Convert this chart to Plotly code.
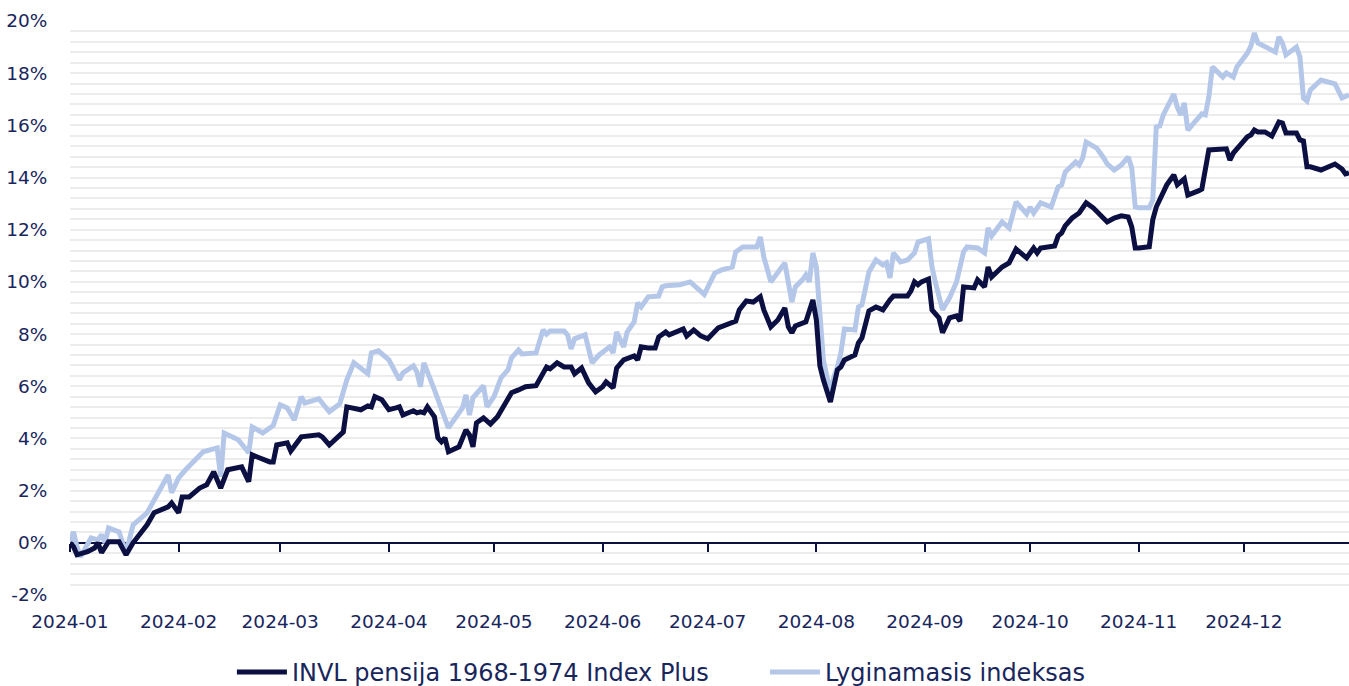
import plotly.graph_objects as go

# ---- data (percent) ----
dark_dates = [
    "2024-01-01", "2024-01-02", "2024-01-03", "2024-01-06", "2024-01-08", "2024-01-09", "2024-01-10",
    "2024-01-12", "2024-01-15", "2024-01-17", "2024-01-19", "2024-01-22", "2024-01-23", "2024-01-25",
    "2024-01-29", "2024-01-30", "2024-02-01", "2024-02-02", "2024-02-04", "2024-02-07", "2024-02-09",
    "2024-02-11", "2024-02-13", "2024-02-15", "2024-02-19", "2024-02-21", "2024-02-22", "2024-02-24",
    "2024-02-27", "2024-02-28", "2024-02-29", "2024-03-03", "2024-03-04", "2024-03-07", "2024-03-12",
    "2024-03-13", "2024-03-15", "2024-03-19", "2024-03-20", "2024-03-24", "2024-03-26", "2024-03-27",
    "2024-03-28", "2024-03-30", "2024-04-01", "2024-04-03", "2024-04-04", "2024-04-05", "2024-04-08",
    "2024-04-09", "2024-04-10", "2024-04-11", "2024-04-12", "2024-04-13", "2024-04-14", "2024-04-15",
    "2024-04-16", "2024-04-17", "2024-04-18", "2024-04-21", "2024-04-23", "2024-04-24", "2024-04-25",
    "2024-04-26", "2024-04-28", "2024-04-30", "2024-05-02", "2024-05-04", "2024-05-06", "2024-05-08",
    "2024-05-10", "2024-05-13", "2024-05-14", "2024-05-16", "2024-05-17", "2024-05-19", "2024-05-21",
    "2024-05-23", "2024-05-24", "2024-05-26", "2024-05-28", "2024-05-30", "2024-06-01", "2024-06-02",
    "2024-06-04", "2024-06-05", "2024-06-07", "2024-06-10", "2024-06-11", "2024-06-12", "2024-06-14",
    "2024-06-16", "2024-06-17", "2024-06-19", "2024-06-20", "2024-06-22", "2024-06-24", "2024-06-25",
    "2024-06-27", "2024-06-29", "2024-07-01", "2024-07-04", "2024-07-06", "2024-07-09", "2024-07-10",
    "2024-07-12", "2024-07-14", "2024-07-16", "2024-07-17", "2024-07-19", "2024-07-21", "2024-07-23",
    "2024-07-24", "2024-07-25", "2024-07-26", "2024-07-29", "2024-07-31", "2024-08-01", "2024-08-02",
    "2024-08-03", "2024-08-05", "2024-08-06", "2024-08-07", "2024-08-08", "2024-08-09", "2024-08-12",
    "2024-08-13", "2024-08-14", "2024-08-16", "2024-08-18", "2024-08-20", "2024-08-22", "2024-08-23",
    "2024-08-27", "2024-08-28", "2024-08-29", "2024-08-30", "2024-08-31", "2024-09-02", "2024-09-03",
    "2024-09-05", "2024-09-06", "2024-09-08", "2024-09-10", "2024-09-11", "2024-09-12", "2024-09-15",
    "2024-09-16", "2024-09-18", "2024-09-19", "2024-09-20", "2024-09-23", "2024-09-25", "2024-09-27",
    "2024-09-30", "2024-10-02", "2024-10-03", "2024-10-04", "2024-10-08", "2024-10-09", "2024-10-10",
    "2024-10-11", "2024-10-13", "2024-10-15", "2024-10-17", "2024-10-19", "2024-10-22", "2024-10-23",
    "2024-10-25", "2024-10-27", "2024-10-29", "2024-10-30", "2024-10-31", "2024-11-01", "2024-11-04",
    "2024-11-05", "2024-11-06", "2024-11-08", "2024-11-09", "2024-11-11", "2024-11-12", "2024-11-14",
    "2024-11-15", "2024-11-18", "2024-11-19", "2024-11-21", "2024-11-26", "2024-11-27", "2024-11-28",
    "2024-11-30", "2024-12-02", "2024-12-03", "2024-12-04", "2024-12-05", "2024-12-07", "2024-12-09",
    "2024-12-11", "2024-12-12", "2024-12-13", "2024-12-16", "2024-12-17", "2024-12-18", "2024-12-19",
    "2024-12-20", "2024-12-23", "2024-12-27", "2024-12-29", "2024-12-30", "2024-12-31",
]
dark_values = [
    0.0, -0.15, -0.46, -0.34, -0.2, 0.0, -0.38,
    0.04, 0.04, -0.46, 0.0, 0.5, 0.69, 1.15,
    1.38, 1.53, 1.15, 1.76, 1.76, 2.1, 2.22,
    2.72, 2.1, 2.8, 2.91, 2.34, 3.37, 3.26,
    3.1, 3.1, 3.75, 3.83, 3.52, 4.06, 4.14,
    4.06, 3.75, 4.25, 5.21, 5.1, 5.25, 5.21,
    5.6, 5.48, 5.1, 5.17, 5.21, 4.9, 5.06,
    4.98, 5.02, 4.98, 5.21, 5.02, 4.83, 4.02,
    3.87, 4.02, 3.49, 3.68, 4.33, 4.14, 3.68,
    4.6, 4.79, 4.55, 4.83, 5.29, 5.75, 5.86,
    5.98, 6.02, 6.25, 6.74, 6.67, 6.9, 6.74,
    6.74, 6.48, 6.7, 6.13, 5.79, 5.98, 6.17,
    5.94, 6.7, 7.01, 7.16, 7.01, 7.51, 7.47,
    7.47, 7.89, 8.08, 7.97, 8.08, 8.2, 7.93,
    8.16, 7.93, 7.82, 8.24, 8.35, 8.5, 8.93,
    9.27, 9.23, 9.43, 8.93, 8.28, 8.54, 9.0,
    8.28, 8.05, 8.31, 8.47, 9.31, 8.54, 6.78,
    6.25, 5.4, 5.98, 6.63, 6.74, 7.01, 7.2,
    7.66, 7.85, 8.89, 9.04, 8.93, 9.31, 9.46,
    9.46, 9.66, 10.0, 9.89, 10.0, 10.11, 8.93,
    8.62, 8.05, 8.62, 8.7, 8.5, 9.81, 9.77,
    10.08, 9.81, 10.57, 10.19, 10.57, 10.73, 11.26,
    10.92, 11.3, 11.11, 11.3, 11.38, 11.76, 11.88,
    12.15, 12.45, 12.64, 13.03, 12.84, 12.45, 12.3,
    12.45, 12.53, 12.49, 12.11, 11.3, 11.3, 11.35,
    12.38, 12.87, 13.41, 13.72, 14.1, 13.72, 13.95,
    13.33, 13.49, 13.56, 15.06, 15.1, 14.67, 14.94,
    15.25, 15.56, 15.63, 15.82, 15.75, 15.75, 15.59,
    16.13, 16.09, 15.71, 15.71, 15.44, 15.4, 14.41,
    14.41, 14.29, 14.52, 14.33, 14.14, 14.18,
]

light_dates = [
    "2024-01-01", "2024-01-02", "2024-01-03", "2024-01-04", "2024-01-07", "2024-01-09", "2024-01-10",
    "2024-01-11", "2024-01-12", "2024-01-15", "2024-01-17", "2024-01-19", "2024-01-23", "2024-01-26",
    "2024-01-29", "2024-01-30", "2024-02-01", "2024-02-03", "2024-02-06", "2024-02-08", "2024-02-12",
    "2024-02-13", "2024-02-14", "2024-02-18", "2024-02-21", "2024-02-22", "2024-02-25", "2024-02-28",
    "2024-03-01", "2024-03-03", "2024-03-05", "2024-03-07", "2024-03-08", "2024-03-12", "2024-03-15",
    "2024-03-18", "2024-03-20", "2024-03-22", "2024-03-26", "2024-03-27", "2024-03-29", "2024-04-01",
    "2024-04-04", "2024-04-05", "2024-04-08", "2024-04-09", "2024-04-10", "2024-04-11", "2024-04-14",
    "2024-04-16", "2024-04-18", "2024-04-22", "2024-04-23", "2024-04-24", "2024-04-25", "2024-04-28",
    "2024-04-29", "2024-05-01", "2024-05-03", "2024-05-05", "2024-05-06", "2024-05-08", "2024-05-09",
    "2024-05-13", "2024-05-15", "2024-05-16", "2024-05-17", "2024-05-21", "2024-05-22", "2024-05-23",
    "2024-05-24", "2024-05-27", "2024-05-29", "2024-05-31", "2024-06-03", "2024-06-04", "2024-06-05",
    "2024-06-07", "2024-06-08", "2024-06-10", "2024-06-11", "2024-06-12", "2024-06-14", "2024-06-17",
    "2024-06-18", "2024-06-19", "2024-06-23", "2024-06-26", "2024-06-28", "2024-06-30", "2024-07-03",
    "2024-07-05", "2024-07-08", "2024-07-09", "2024-07-11", "2024-07-15", "2024-07-16", "2024-07-17",
    "2024-07-19", "2024-07-21", "2024-07-23", "2024-07-25", "2024-07-26", "2024-07-28", "2024-07-29",
    "2024-07-30", "2024-07-31", "2024-08-01", "2024-08-02", "2024-08-03", "2024-08-05", "2024-08-06",
    "2024-08-07", "2024-08-08", "2024-08-09", "2024-08-12", "2024-08-13", "2024-08-14", "2024-08-16",
    "2024-08-18", "2024-08-20", "2024-08-21", "2024-08-22", "2024-08-23", "2024-08-25", "2024-08-27",
    "2024-08-29", "2024-08-30", "2024-09-02", "2024-09-03", "2024-09-04", "2024-09-06", "2024-09-08",
    "2024-09-10", "2024-09-12", "2024-09-13", "2024-09-16", "2024-09-18", "2024-09-19", "2024-09-20",
    "2024-09-23", "2024-09-25", "2024-09-27", "2024-09-30", "2024-10-01", "2024-10-02", "2024-10-04",
    "2024-10-07", "2024-10-09", "2024-10-10", "2024-10-11", "2024-10-14", "2024-10-15", "2024-10-16",
    "2024-10-17", "2024-10-20", "2024-10-22", "2024-10-23", "2024-10-25", "2024-10-27", "2024-10-29",
    "2024-10-30", "2024-10-31", "2024-11-01", "2024-11-04", "2024-11-05", "2024-11-06", "2024-11-07",
    "2024-11-08", "2024-11-11", "2024-11-12", "2024-11-13", "2024-11-14", "2024-11-15", "2024-11-17",
    "2024-11-19", "2024-11-20", "2024-11-21", "2024-11-22", "2024-11-25", "2024-11-26", "2024-11-28",
    "2024-11-29", "2024-12-02", "2024-12-03", "2024-12-04", "2024-12-05", "2024-12-07", "2024-12-10",
    "2024-12-11", "2024-12-12", "2024-12-13", "2024-12-16", "2024-12-17", "2024-12-18", "2024-12-19",
    "2024-12-20", "2024-12-23", "2024-12-27", "2024-12-29", "2024-12-31",
]
light_values = [
    0.0, 0.42, -0.15, -0.54, 0.19, 0.11, 0.31,
    0.0, 0.57, 0.42, -0.38, 0.69, 1.15, 1.92,
    2.6, 1.92, 2.49, 2.8, 3.18, 3.49, 3.64,
    2.53, 4.21, 3.95, 3.45, 4.44, 4.21, 4.5,
    5.29, 5.17, 4.71, 5.6, 5.36, 5.52, 5.02,
    5.33, 6.25, 6.9, 6.48, 7.28, 7.36, 7.01,
    6.25, 6.51, 6.78, 6.55, 5.98, 6.9, 5.86,
    5.17, 4.41, 5.17, 5.67, 4.9, 5.56, 6.02,
    5.21, 5.6, 6.32, 6.63, 7.09, 7.39, 7.24,
    7.28, 8.16, 8.0, 8.12, 8.12, 7.97, 7.43,
    7.82, 7.97, 6.9, 7.2, 7.51, 7.28, 8.08,
    7.51, 8.08, 8.47, 9.2, 9.04, 9.43, 9.46,
    9.81, 9.85, 9.89, 10.0, 9.77, 9.52, 10.34,
    10.46, 10.57, 11.15, 11.34, 11.34, 11.72, 10.96,
    10.0, 10.34, 10.73, 9.23, 9.81, 10.08, 10.27,
    10.0, 11.11, 10.57, 8.54, 7.01, 5.75, 6.36,
    6.74, 7.28, 8.2, 8.16, 9.04, 9.12, 10.38,
    10.84, 10.65, 10.73, 10.15, 11.11, 10.77, 10.84,
    11.11, 11.53, 11.65, 10.57, 9.96, 8.93, 9.39,
    10.0, 11.15, 11.34, 11.3, 11.11, 12.07, 11.76,
    12.3, 12.07, 13.07, 12.61, 12.87, 12.64, 13.03,
    12.87, 13.64, 13.72, 14.21, 14.6, 14.48, 14.75,
    15.36, 15.13, 14.75, 14.52, 14.29, 14.48, 14.79,
    14.37, 12.87, 12.84, 12.84, 13.14, 15.94, 15.98,
    16.4, 17.2, 16.7, 16.4, 16.86, 15.82, 16.13,
    16.44, 16.4, 17.09, 18.24, 17.85, 18.01, 17.85,
    18.24, 18.77, 19.04, 19.54, 19.16, 19.0, 18.81,
    19.39, 19.16, 18.7, 19.0, 18.62, 17.05, 16.93,
    17.36, 17.74, 17.59, 17.05, 17.17,
]

series_names = ["INVL pensija 1968-1974 Index Plus", "Lyginamasis indeksas"]
month_ticks = ["2024-01-01", "2024-02-01", "2024-03-01", "2024-04-01", "2024-05-01", "2024-06-01",
               "2024-07-01", "2024-08-01", "2024-09-01", "2024-10-01", "2024-11-01", "2024-12-01"]
month_labels = ["2024-01", "2024-02", "2024-03", "2024-04", "2024-05", "2024-06",
                "2024-07", "2024-08", "2024-09", "2024-10", "2024-11", "2024-12"]
y_ticks = [-0.02, 0.0, 0.02, 0.04, 0.06, 0.08, 0.10, 0.12, 0.14, 0.16, 0.18, 0.20]
y_labels = ["-2%", "0%", "2%", "4%", "6%", "8%", "10%", "12%", "14%", "16%", "18%", "20%"]

DARK = "#0b0f42"
LIGHT = "#b4c7e9"
TEXT = "#18265c"
GRID = "#ececec"
FONT = "Verdana, DejaVu Sans, sans-serif"

x_range = ["2024-01-01", "2024-12-31"]
y_range = [-0.02, 0.20]

fig = go.Figure()
fig.add_trace(go.Scatter(
    x=light_dates, y=[v / 100 for v in light_values], name=series_names[1],
    legendrank=2, mode="lines", line=dict(color=LIGHT, width=5),
))
fig.add_trace(go.Scatter(
    x=dark_dates, y=[v / 100 for v in dark_values], name=series_names[0],
    legendrank=1, mode="lines", line=dict(color=DARK, width=5),
))

fig.update_layout(
    width=1349, height=686,
    margin=dict(l=70, r=0, t=21, b=91, autoexpand=False),
    paper_bgcolor="white", plot_bgcolor="white",
    font=dict(family=FONT, color=TEXT, size=18.5),
    showlegend=True,
    legend=dict(orientation="h", x=0.1266, xanchor="left",
                yref="container", y=0.02, yanchor="middle",
                font=dict(size=24, color=TEXT), traceorder="normal",
                entrywidth=468, itemwidth=50),
    xaxis=dict(
        type="date", range=x_range,
        tickvals=month_ticks, ticktext=month_labels,
        showgrid=False, zeroline=False, showline=False,
        ticks="outside", ticklen=10, tickcolor="rgba(0,0,0,0)",
        tickfont=dict(size=18.5, color=TEXT),
    ),
    xaxis2=dict(
        type="date", range=x_range, overlaying="x", anchor="free",
        position=(0 - y_range[0]) / (y_range[1] - y_range[0]),
        tickvals=month_ticks, showticklabels=False,
        showgrid=False, zeroline=False,
        showline=True, linecolor=DARK, linewidth=2,
        ticks="outside", ticklen=8, tickwidth=2, tickcolor=DARK,
        layer="below traces",
    ),
    yaxis=dict(
        range=y_range, tickvals=y_ticks, ticktext=y_labels,
        showgrid=True, gridcolor=GRID, gridwidth=2,
        zeroline=False, showline=False,
        ticks="outside", ticklen=18, tickcolor="rgba(0,0,0,0)",
        tickfont=dict(size=18.5, color=TEXT),
        minor=dict(dtick=0.004, tick0=0, showgrid=True, gridcolor=GRID, gridwidth=2),
    ),
)
# invisible helper trace so xaxis2 renders
fig.add_trace(go.Scatter(x=x_range, y=[None, None], xaxis="x2", showlegend=False,
                         hoverinfo="skip", mode="lines"))

fig.write_html("out.html", config={"displayModeBar": False},
               post_script="document.body.style.margin='0';document.body.style.overflow='hidden';")
